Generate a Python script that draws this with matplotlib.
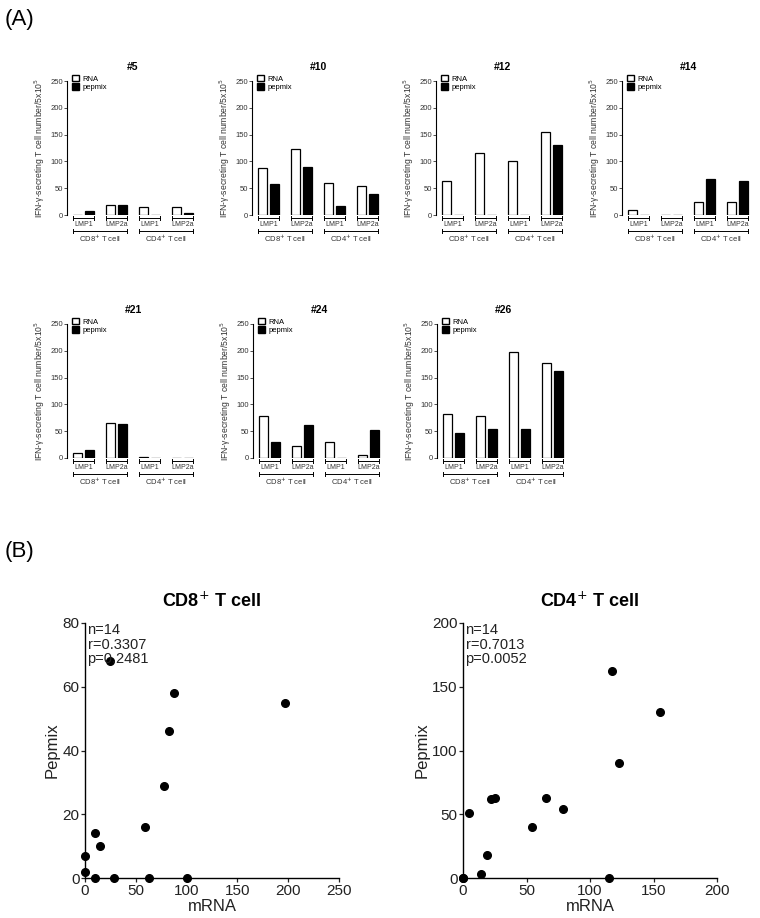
import numpy as np
import matplotlib
matplotlib.use("Agg")
import matplotlib.pyplot as plt
from matplotlib.patches import Patch

plt.rcParams['font.family'] = ['Liberation Sans', 'DejaVu Sans']

# bar data: order CD8 LMP1, CD8 LMP2a, CD4 LMP1, CD4 LMP2a
patients = ["#5", "#10", "#12", "#14", "#21", "#24", "#26"]
rna = {
    "#5":  [0, 19, 15, 14],
    "#10": [88, 123, 59, 54],
    "#12": [63, 115, 100, 155],
    "#14": [10, 0, 25, 25],
    "#21": [10, 65, 2, 0],
    "#24": [79, 22, 29, 6],
    "#26": [83, 79, 197, 177],
}
pepmix = {
    "#5":  [7, 18, 0, 3],
    "#10": [58, 90, 16, 40],
    "#12": [0, 0, 0, 130],
    "#14": [0, 0, 68, 63],
    "#21": [14, 63, 0, 0],
    "#24": [30, 62, 0, 52],
    "#26": [46, 54, 55, 162],
}
antigens = ["LMP1", "LMP2a", "LMP1", "LMP2a"]
cells = ["CD8$^{+}$ T cell", "CD4$^{+}$ T cell"]

# scatter data
cd8_mrna = [0, 0, 10, 10, 15, 25, 29, 59, 63, 78, 83, 88, 100, 197]
cd8_pep = [7, 2, 14, 0, 10, 68, 0, 16, 0, 29, 46, 58, 0, 55]
cd4_mrna = [0, 0, 5, 14, 19, 22, 25, 54, 65, 79, 115, 117, 123, 155]
cd4_pep = [0, 0, 51, 3, 18, 62, 63, 40, 63, 54, 0, 162, 90, 130]

W, H = 760, 918
fig = plt.figure(figsize=(W / 100, H / 100), dpi=100)

def px(x0, y0, x1, y1):
    return [x0 / W, 1 - y1 / H, (x1 - x0) / W, (y1 - y0) / H]

bar_pos = {
    "#5": (67, 81), "#10": (252, 81), "#12": (436, 81), "#14": (622, 81),
    "#21": (67, 324), "#24": (253, 324), "#26": (437, 324),
}

for p in patients:
    x0, y0 = bar_pos[p]
    ax = fig.add_axes(px(x0, y0, x0 + 132, y0 + 134))
    x = np.arange(4)
    ax.bar(x - 0.19, rna[p], 0.26, color="white", edgecolor="black", linewidth=0.9)
    ax.bar(x + 0.19, pepmix[p], 0.26, color="black", edgecolor="black", linewidth=0.9)
    ax.set_xlim(-0.5, 3.5)
    ax.set_ylim(0, 250)
    ax.set_yticks([0, 50, 100, 150, 200, 250])
    ax.tick_params(axis="y", labelsize=5.5, length=2, width=0.6, pad=1, colors="#333333")
    ax.set_xticks([])
    for s in ["top", "right", "bottom"]:
        ax.spines[s].set_visible(False)
    ax.spines["left"].set_linewidth(0.8)
    ax.set_title(p, fontsize=7.5, fontweight="bold", pad=8)
    ax.set_ylabel("IFN-γ-secreting T cell number/5x10$^{5}$", fontsize=6.2, labelpad=2, color="#333333")
    tr = ax.get_xaxis_transform()
    for i, lab in enumerate(antigens):
        ax.plot([i - 0.33, i + 0.33], [-0.022, -0.022], color="black", lw=0.7, transform=tr, clip_on=False)
        for e in (i - 0.33, i + 0.33):
            ax.plot([e, e], [-0.01, -0.04], color="black", lw=0.7, transform=tr, clip_on=False)
        ax.text(i, -0.07, lab, fontsize=5, ha="center", va="center", transform=tr, color="#333333")
    for j, lab in enumerate(cells):
        a, b = 2 * j - 0.33, 2 * j + 1 + 0.33
        ax.plot([a, b], [-0.12, -0.12], color="black", lw=0.7, transform=tr, clip_on=False)
        for e in (a, b):
            ax.plot([e, e], [-0.105, -0.135], color="black", lw=0.7, transform=tr, clip_on=False)
        ax.text(2 * j + 0.5, -0.175, lab, fontsize=5.5, ha="center", va="center", transform=tr, color="#333333")
    handles = [Patch(facecolor="white", edgecolor="black", label="RNA"),
               Patch(facecolor="black", edgecolor="black", label="pepmix")]
    ax.legend(handles=handles, loc="upper left", bbox_to_anchor=(0.0, 1.08), fontsize=5.5,
              frameon=False, handlelength=1.0, handleheight=0.9, handletextpad=0.4,
              labelspacing=0.1, borderaxespad=0.2)

fig.text(5 / W, 1 - 20 / H, "(A)", fontsize=16, va="center")
fig.text(5 / W, 1 - 552 / H, "(B)", fontsize=16, va="center")

scat = [
    ("CD8$^{+}$ T cell", cd8_mrna, cd8_pep, (85, 623, 339, 878), 250, 80, 20, "n=14\nr=0.3307\np=0.2481"),
    ("CD4$^{+}$ T cell", cd4_mrna, cd4_pep, (463, 623, 717, 878), 200, 200, 50, "n=14\nr=0.7013\np=0.0052"),
]
for title, xs, ys, box, xmax, ymax, ystep, stats in scat:
    ax = fig.add_axes(px(*box))
    ax.plot(xs, ys, "o", color="black", markersize=5.5, clip_on=False)
    ax.set_xlim(0, xmax)
    ax.set_ylim(0, ymax)
    ax.set_xticks(np.arange(0, xmax + 1, 50))
    ax.set_yticks(np.arange(0, ymax + 1, ystep))
    for s in ["top", "right"]:
        ax.spines[s].set_visible(False)
    for s in ["left", "bottom"]:
        ax.spines[s].set_linewidth(1.0)
    ax.tick_params(labelsize=11, length=3, width=0.9, pad=1, colors="#222222")
    ax.set_xlabel("mRNA", fontsize=12, labelpad=1, color="#222222")
    ax.set_ylabel("Pepmix", fontsize=12, labelpad=2, color="#222222")
    ax.set_title(title, fontsize=13, fontweight="bold", pad=12)
    ax.text(0.01, 1.0, stats, transform=ax.transAxes, fontsize=10.5, va="top", ha="left",
            linespacing=1.05, color="#222222")

fig.savefig("out.png", dpi=100)
